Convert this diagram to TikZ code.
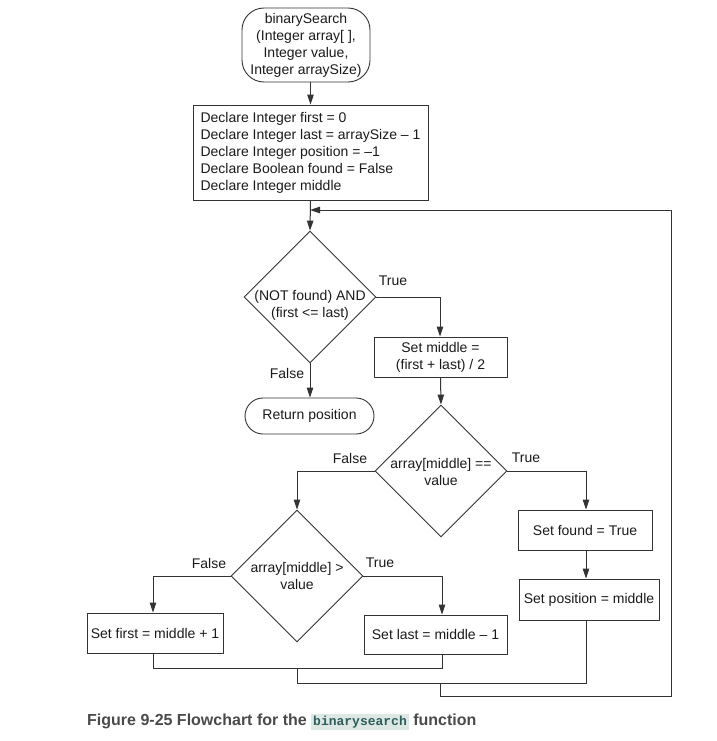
\documentclass[tikz,border=0pt]{standalone}
\usepackage{fontspec}
\setmainfont{Liberation Sans}
\newfontfamily\codefont{Liberation Mono}
\usetikzlibrary{shapes.geometric,arrows.meta}
\definecolor{linegray}{HTML}{333333}
\definecolor{txtgray}{HTML}{1A1A1A}
\definecolor{capgray}{HTML}{4A4A4A}
\definecolor{codecol}{HTML}{2E5E5C}
\definecolor{codebg}{HTML}{DDE7E4}
\begin{document}
\begin{tikzpicture}[x=1pt,y=-1pt,
  font=\fontsize{14}{17}\selectfont,
  every node/.style={text=txtgray},
  procbox/.style={draw=linegray, line width=0.9pt, rectangle, inner sep=0pt, align=center},
  termbox/.style={procbox, rounded corners=#1},
  dia/.style={draw=linegray, line width=0.9pt, diamond, inner sep=0pt, minimum width=132pt, minimum height=132pt},
  lbl/.style={inner sep=0pt},
  conn/.style={draw=linegray, line width=1pt},
  arr/.style={conn, -{Triangle[length=10pt,width=6.5pt]}}
]
\useasboundingbox (0,0) rectangle (716,741);

% nodes
\node[termbox=22pt, minimum width=128pt, minimum height=74pt] (start) at (306,45)
  {binarySearch\\(Integer array[ ],\\Integer value,\\Integer arraySize)};
\node[procbox, minimum width=235pt, minimum height=95pt, align=left] (decl) at (310.5,152.5)
  {Declare Integer first = 0\\Declare Integer last = arraySize -- 1\\Declare Integer position = --1\\Declare Boolean found = False\\Declare Integer middle};
\node[dia] (d1) at (310,297) {};
\node[lbl, align=center] (d1t) at (310,305.5) {(NOT found) AND\\(first <= last)};
\node[termbox=18pt, minimum width=129pt, minimum height=36pt] (retn) at (309.5,416) {Return position};
\node[procbox, minimum width=133pt, minimum height=40pt] (setmid) at (440.5,357) {Set middle =\\(first + last) / 2};
\node[dia] (d2) at (441,471) {};
\node[lbl, align=center] (d2t) at (441,471.5) {array[middle] ==\\value};
\node[procbox, minimum width=134pt, minimum height=40pt] (found) at (585,530) {Set found = True};
\node[procbox, minimum width=140pt, minimum height=41pt] (pos) at (589,599.5) {Set position = middle};
\node[dia] (d3) at (297,576) {};
\node[lbl, align=center] (d3t) at (297,576) {array[middle] >\\value};
\node[procbox, minimum width=136pt, minimum height=40pt] (sfirst) at (155,633) {Set first = middle + 1};
\node[procbox, minimum width=143pt, minimum height=39pt] (slast) at (435.5,634.5) {Set last = middle -- 1};

% labels
\node[lbl] (t1) at (393,281) {True};
\node[lbl] (f1) at (287,373) {False};
\node[lbl] (t2) at (526,458) {True};
\node[lbl] (f2) at (350,458) {False};
\node[lbl] (t3) at (380,563) {True};
\node[lbl] (f3) at (209,563) {False};

% coordinates
\coordinate (j1) at (310,210);
\coordinate (c1) at (440,297);
\coordinate (c2) at (586,471);
\coordinate (c3) at (297,471);
\coordinate (c4) at (153,576);
\coordinate (c5) at (442,576);
\coordinate (b1) at (153,668);
\coordinate (b2) at (442,668);
\coordinate (m1) at (297,668);
\coordinate (m1b) at (297,683);
\coordinate (m1c) at (586,683);
\coordinate (m2) at (440,683);
\coordinate (m2b) at (440,696);
\coordinate (r1) at (671,696);
\coordinate (r2) at (671,210);

% connectors
\draw[arr] (start.south -| decl.north) -- (decl.north);
\draw[arr] (decl.south) -- (d1.north);
\draw[arr] (d1.east) -- (c1) -- (setmid.north -| c1);
\draw[arr] (d1.south) -- (retn.north -| d1.south);
\draw[arr] (setmid.south) -- (d2.north);
\draw[arr] (d2.east) -- (c2) -- (found.north -| c2);
\draw[arr] (d2.west) -- (c3) -- (d3.north);
\draw[arr] (found.south -| c2) -- (pos.north -| c2);
\draw[arr] (d3.west) -- (c4) -- (sfirst.north -| c4);
\draw[arr] (d3.east) -- (c5) -- (slast.north -| c5);
\draw[conn] (sfirst.south -| b1) -- (b1) -- (b2) -- (slast.south -| b2);
\draw[conn] (m1) -- (m1b) -- (m1c) -- (pos.south -| m1c);
\draw[conn] (m2) -- (m2b) -- (r1) -- (r2);
\draw[arr] (r2) -- (j1);

% caption
\node[anchor=base west, inner sep=0pt, font=\bfseries\fontsize{16}{19}\selectfont, text=capgray] (cap) at (87,725)
  {Figure 9-25 Flowchart for the {\setlength{\fboxsep}{2pt}\colorbox{codebg}{\codefont\bfseries\fontsize{13}{15}\selectfont\color{codecol}binarysearch}} function};
\end{tikzpicture}
\end{document}
